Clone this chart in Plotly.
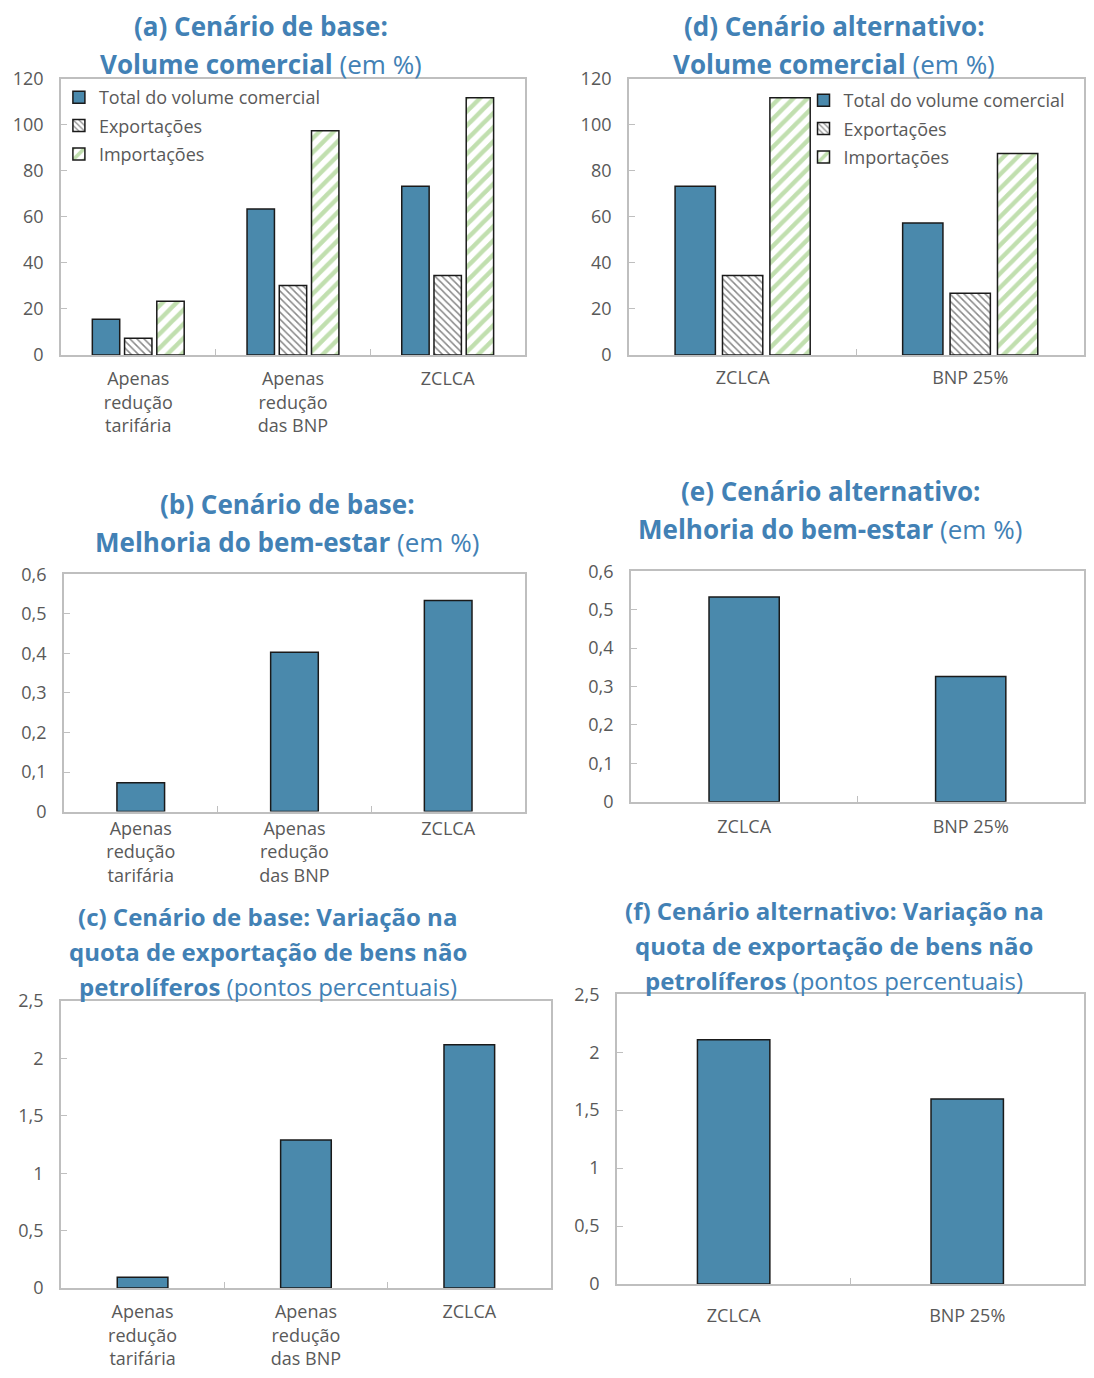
import plotly.graph_objects as go

# ---------------- data ----------------
cats_base = ["Apenas<br>redução<br>tarifária", "Apenas<br>redução<br>das BNP", "ZCLCA"]
cats_alt = ["ZCLCA", "BNP 25%"]

series_names = ["Total do volume comercial", "Exportações", "Importações"]

vol_total_base = [15.5, 63.4, 73.4]
vol_exp_base = [7.3, 30.2, 34.5]
vol_imp_base = [23.3, 97.5, 111.8]

vol_total_alt = [73.4, 57.4]
vol_exp_alt = [34.5, 26.8]
vol_imp_alt = [111.8, 87.6]

welfare_base = [0.073, 0.403, 0.534]
welfare_alt = [0.533, 0.326]

share_base = [0.095, 1.29, 2.12]
share_alt = [2.107, 1.596]

# ---------------- style ----------------
OFFX = 8                # horizontal page offset of the figure
AY, BY = 1.0235, -21.1  # vertical calibration of the captured page
W, H = 1078, 1362
FONT = "Open Sans"
GRAY = "#595959"
FRAME = "#bfbfbf"
BLUE = "#4a89ac"
GREEN = "#84c060"
TITLE = "#4281b5"


def px_x(p):
    return min(1.0, max(0.0, (p - OFFX) / W))


def px_y(p):
    f = AY * p + BY
    return min(1.0, max(0.0, 1 - f / H))


fig = go.Figure()

# panel geometry (target picture pixel coords): x0, x1, ytop, ybottom
panels = {
    1: dict(x=(61, 526), y=(79, 357)),     # (a)
    2: dict(x=(630, 1094), y=(79, 357)),   # (d)
    3: dict(x=(64, 526), y=(578, 817)),    # (b)
    4: dict(x=(632, 1094), y=(575, 807)),  # (e)
    5: dict(x=(61, 552), y=(1008, 1297)),  # (c)
    6: dict(x=(618, 1094), y=(1001, 1293)),  # (f)
}


def ax(i):
    return ("x" if i == 1 else f"x{i}"), ("y" if i == 1 else f"y{i}")


def add_volume(i, cats, tot, exp, imp, legend):
    xa, ya = ax(i)
    fig.add_trace(go.Bar(
        x=cats, y=tot, name=series_names[0], xaxis=xa, yaxis=ya,
        marker=dict(color=BLUE, line=dict(color="#1a1a1a", width=1.5)),
        legend=legend, legendgroup=legend + "a", offsetgroup="a"))
    fig.add_trace(go.Bar(
        x=cats, y=exp, name=series_names[1], xaxis=xa, yaxis=ya,
        marker=dict(color="white", line=dict(color="#1a1a1a", width=1.5),
                    pattern=dict(shape="\\", fgcolor="#111111", bgcolor="white",
                                 size=5, solidity=0.3)),
        legend=legend, legendgroup=legend + "b", offsetgroup="b"))
    fig.add_trace(go.Bar(
        x=cats, y=imp, name=series_names[2], xaxis=xa, yaxis=ya,
        marker=dict(color="white", line=dict(color="#1a1a1a", width=1.5),
                    pattern=dict(shape="/", fgcolor=GREEN, bgcolor="white",
                                 size=10, solidity=0.45)),
        legend=legend, legendgroup=legend + "c", offsetgroup="c"))


def add_single(i, cats, vals):
    xa, ya = ax(i)
    fig.add_trace(go.Bar(
        x=cats, y=vals, xaxis=xa, yaxis=ya, showlegend=False, width=0.31,
        marker=dict(color=BLUE, line=dict(color="#1a1a1a", width=1.5))))


add_volume(1, cats_base, vol_total_base, vol_exp_base, vol_imp_base, "legend")
add_volume(2, cats_alt, vol_total_alt, vol_exp_alt, vol_imp_alt, "legend2")
add_single(3, cats_base, welfare_base)
add_single(4, cats_alt, welfare_alt)
add_single(5, cats_base, share_base)
add_single(6, cats_alt, share_alt)

yranges = {1: [0, 120], 2: [0, 120], 3: [0, 0.6], 4: [0, 0.6], 5: [0, 2.5], 6: [0, 2.5]}
dticks = {1: 20, 2: 20, 3: 0.1, 4: 0.1, 5: 0.5, 6: 0.5}
xstand = {1: 7, 2: 6, 3: 0, 4: 8, 5: 7, 6: 15}

layout = dict(
    width=W, height=H,
    margin=dict(l=0, r=0, t=0, b=0),
    paper_bgcolor="white", plot_bgcolor="white",
    font=dict(family=FONT, size=18, color=GRAY),
    separators=", ",
    barmode="group", bargap=0.375, bargroupgap=0.15,
)

for i, g in panels.items():
    xkey = "xaxis" if i == 1 else f"xaxis{i}"
    ykey = "yaxis" if i == 1 else f"yaxis{i}"
    xa, ya = ax(i)
    layout[xkey] = dict(
        domain=[px_x(g["x"][0]), px_x(g["x"][1])],
        anchor=ya, type="category",
        showline=True, mirror=True, linecolor=FRAME, linewidth=1.5,
        showgrid=False, zeroline=False,
        ticks="inside", tickson="boundaries", ticklen=6, tickcolor=FRAME,
        tickfont=dict(family=FONT, size=18, color=GRAY),
        ticklabelstandoff=xstand[i], fixedrange=True,
    )
    layout[ykey] = dict(
        domain=[px_y(g["y"][1]), px_y(g["y"][0])],
        anchor=xa, range=yranges[i], dtick=dticks[i], tick0=0,
        showline=True, mirror=True, linecolor=FRAME, linewidth=1.5,
        showgrid=False, zeroline=False,
        ticks="inside", ticklen=6, tickcolor=FRAME,
        tickfont=dict(family=FONT, size=18, color=GRAY),
        ticklabelstandoff=12, fixedrange=True,
    )

legend_style = dict(
    font=dict(family=FONT, size=18, color=GRAY),
    bgcolor="rgba(0,0,0,0)", borderwidth=0,
    xanchor="left", yanchor="top", tracegroupgap=2,
    itemwidth=30, orientation="v",
)
layout["legend"] = dict(x=px_x(59), y=px_y(79), **legend_style)
layout["legend2"] = dict(x=px_x(805), y=px_y(82), **legend_style)

fig.update_layout(**layout)

# ---------------- titles ----------------
titles = [
    (261, 26, "<b>(a) Cenário de base:</b>", 26),
    (261, 64, "<b>Volume comercial</b> (em %)", 26),
    (836, 26, "<b>(d) Cenário alternativo:</b>", 26),
    (836, 64, "<b>Volume comercial</b> (em %)", 26),
    (288, 507, "<b>(b) Cenário de base:</b>", 26),
    (288, 545, "<b>Melhoria do bem-estar</b> (em %)", 26),
    (832, 494, "<b>(e) Cenário alternativo:</b>", 26),
    (832, 532, "<b>Melhoria do bem-estar</b> (em %)", 26),
    (268, 923, "<b>(c) Cenário de base: Variação na</b>", 24),
    (268, 958, "<b>quota de exportação de bens não</b>", 24),
    (268, 993, "<b>petrolíferos</b> (pontos percentuais)", 24),
    (836, 917, "<b>(f) Cenário alternativo: Variação na</b>", 24),
    (836, 952, "<b>quota de exportação de bens não</b>", 24),
    (836, 987, "<b>petrolíferos</b> (pontos percentuais)", 24),
]
for x, y, t, s in titles:
    fig.add_annotation(
        x=px_x(x), y=px_y(y), xref="paper", yref="paper",
        xanchor="center", yanchor="middle", text=t, showarrow=False,
        font=dict(family=FONT, size=s, color=TITLE))

fig.write_html("out.html")
